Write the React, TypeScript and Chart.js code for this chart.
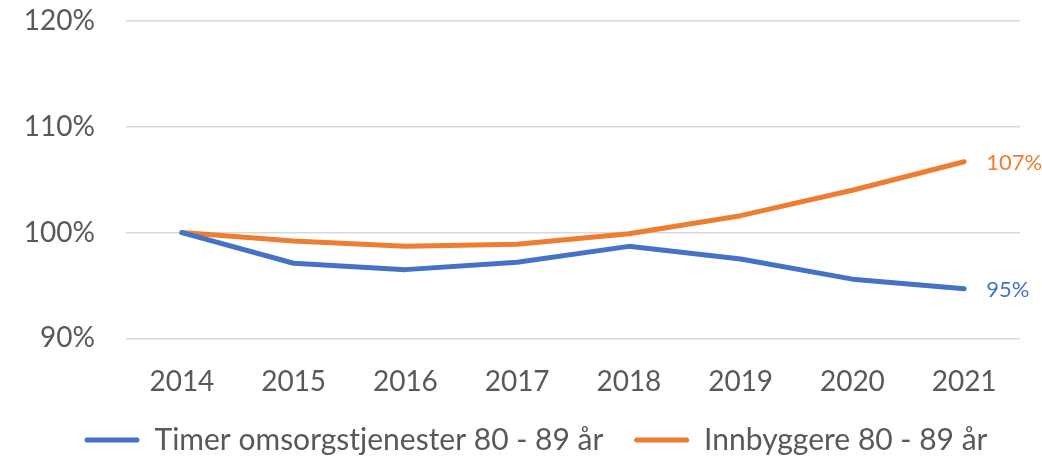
import React, { useEffect, useRef } from "react";
import { Chart, registerables } from "chart.js";

Chart.register(...registerables);

const years = ["2014", "2015", "2016", "2017", "2018", "2019", "2020", "2021"];
const timerOmsorg = [100, 97.1, 96.5, 97.2, 98.7, 97.5, 95.6, 94.7];
const innbyggere = [100, 99.2, 98.7, 98.9, 99.9, 101.6, 104.0, 106.7];
const seriesNames = ["Timer omsorgstjenester 80 - 89 år", "Innbyggere 80 - 89 år"];
const seriesColors = ["#4472C4", "#ED7D31"];
const yMin = 90;
const yMax = 120;
const yStep = 10;

const FONT = "Lato, 'Open Sans', sans-serif";

const lastLabelPlugin = {
  id: "lastLabel",
  afterDatasetsDraw(chart: any) {
    const ctx = chart.ctx;
    chart.data.datasets.forEach((ds: any, i: number) => {
      const meta = chart.getDatasetMeta(i);
      const pt = meta.data[meta.data.length - 1];
      if (!pt) return;
      const v = ds.data[ds.data.length - 1];
      ctx.save();
      ctx.font = `22px ${FONT}`;
      ctx.fillStyle = ds.borderColor;
      ctx.textAlign = "left";
      ctx.textBaseline = "middle";
      ctx.fillText(`${Math.round(v)}%`, pt.x + 22, pt.y + 1);
      ctx.restore();
    });
  },
};

const legendShiftPlugin = {
  id: "legendShift",
  afterLayout(chart: any) {
    if (chart.legend) {
      chart.legend.left += 52;
    }
  },
};

export default function App() {
  const ref = useRef<HTMLCanvasElement>(null);
  useEffect(() => {
    document.body.style.margin = "0";
    const chart = new Chart(ref.current!, {
      type: "line",
      data: {
        labels: years,
        datasets: [
          {
            label: seriesNames[0],
            data: timerOmsorg,
            borderColor: seriesColors[0],
            backgroundColor: seriesColors[0],
            borderWidth: 5,
            pointRadius: 0,
            borderCapStyle: "round",
            borderJoinStyle: "round",
            tension: 0,
          },
          {
            label: seriesNames[1],
            data: innbyggere,
            borderColor: seriesColors[1],
            backgroundColor: seriesColors[1],
            borderWidth: 5,
            pointRadius: 0,
            borderCapStyle: "round",
            borderJoinStyle: "round",
            tension: 0,
          },
        ],
      },
      options: {
        animation: false,
        responsive: false,
        maintainAspectRatio: false,
        layout: { autoPadding: false, padding: { top: 21, right: 22, left: 0, bottom: -4 } },
        plugins: {
          tooltip: { enabled: false },
          legend: {
            position: "bottom",
            labels: {
              font: { family: FONT, size: 30 },
              color: "#595959",
              boxWidth: 55,
              boxHeight: 5,
              useBorderRadius: true,
              borderRadius: 2.5,
              padding: 0,
              generateLabels(chart: any) {
                return chart.data.datasets.map((ds: any, i: number) => ({
                  text: i === 0 ? ds.label + "    " : ds.label,
                  fillStyle: ds.borderColor,
                  strokeStyle: ds.borderColor,
                  lineWidth: 0,
                  datasetIndex: i,
                  hidden: false,
                  fontColor: "#595959",
                  borderRadius: 2.5,
                }));
              },
            },
          },
        },
        scales: {
          x: {
            offset: true,
            grid: { display: false, drawTicks: false },
            border: { display: false },
            ticks: {
              font: { family: FONT, size: 28 },
              color: "#595959",
              padding: 26.5,
              maxRotation: 0,
            },
          },
          y: {
            min: yMin,
            max: yMax,
            grid: {
              color: "#D9D9D9",
              lineWidth: 1.5,
              drawTicks: true,
              tickLength: 31,
              tickColor: "rgba(0,0,0,0)",
            },
            border: { display: false },
            ticks: {
              stepSize: yStep,
              font: { family: FONT, size: 28 },
              color: "#595959",
              padding: 0,
              callback: (v: any) => `${v}%`,
            },
            afterFit(scale: any) {
              scale.width = 126;
            },
          },
        },
      },
      plugins: [lastLabelPlugin, legendShiftPlugin],
    } as any);
    return () => chart.destroy();
  }, []);
  return (
    <div style={{ width: 1042, height: 461 }}>
      <canvas ref={ref} width={1042} height={461} style={{ display: "block" }} />
    </div>
  );
}
